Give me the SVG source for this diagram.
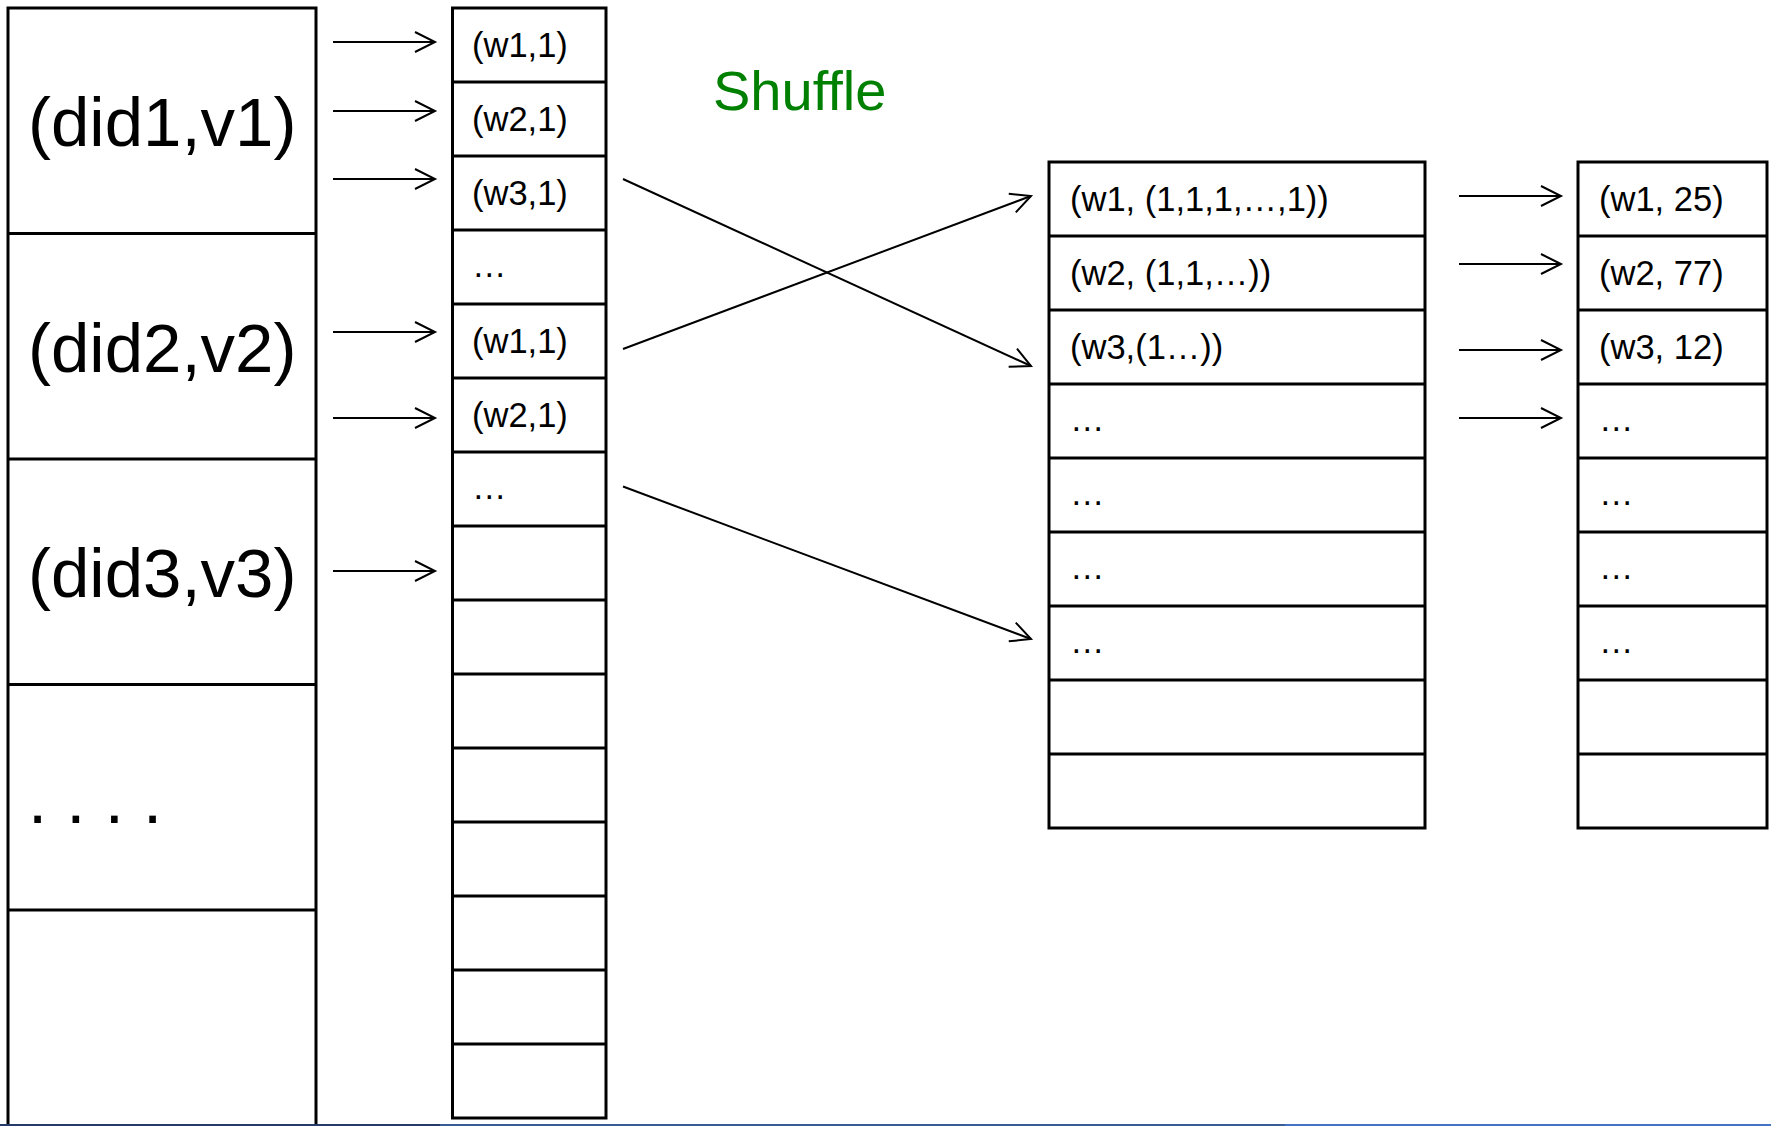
<svg xmlns="http://www.w3.org/2000/svg" width="1771" height="1126" viewBox="0 0 1771 1126">
<style>
.box{fill:#fff;stroke:#000;stroke-width:3}
.div{stroke:#000;stroke-width:3}
.big{font-family:"Liberation Sans",Arial,sans-serif;font-size:69px;fill:#000}
.t{font-family:"Liberation Sans",Arial,sans-serif;font-size:34.5px;fill:#000}
.shuf{font-family:"Liberation Sans",Arial,sans-serif;font-size:56px;fill:#008000}
.arr{stroke:#000;stroke-width:2;fill:none;marker-end:url(#head)}
</style>
<defs>
<marker id="head" markerUnits="userSpaceOnUse" viewBox="-22 -12 24 24" refX="0" refY="0" markerWidth="24" markerHeight="24" orient="auto" overflow="visible">
<path d="M-20,-10 L0,0 L-20,10" fill="none" stroke="#000" stroke-width="2"/>
</marker>
</defs>
<rect width="1771" height="1126" fill="#fff"/>

<g id="input">
<rect class="box" x="8" y="8" width="308" height="1140"/>
<line class="div" x1="8" y1="233.5" x2="316" y2="233.5"/>
<line class="div" x1="8" y1="459" x2="316" y2="459"/>
<line class="div" x1="8" y1="684.5" x2="316" y2="684.5"/>
<line class="div" x1="8" y1="910" x2="316" y2="910"/>
<text class="big" x="28" y="146">(did1,v1)</text>
<text class="big" x="28" y="371.5">(did2,v2)</text>
<text class="big" x="28" y="596.5">(did3,v3)</text>
<text class="big" x="28" y="823">. . . .</text>
</g>

<g id="map-output">
<rect class="box" x="452.5" y="8" width="153.5" height="1110"/>
<line class="div" x1="452.5" y1="82" x2="606" y2="82"/>
<line class="div" x1="452.5" y1="156" x2="606" y2="156"/>
<line class="div" x1="452.5" y1="230" x2="606" y2="230"/>
<line class="div" x1="452.5" y1="304" x2="606" y2="304"/>
<line class="div" x1="452.5" y1="378" x2="606" y2="378"/>
<line class="div" x1="452.5" y1="452" x2="606" y2="452"/>
<line class="div" x1="452.5" y1="526" x2="606" y2="526"/>
<line class="div" x1="452.5" y1="600" x2="606" y2="600"/>
<line class="div" x1="452.5" y1="674" x2="606" y2="674"/>
<line class="div" x1="452.5" y1="748" x2="606" y2="748"/>
<line class="div" x1="452.5" y1="822" x2="606" y2="822"/>
<line class="div" x1="452.5" y1="896" x2="606" y2="896"/>
<line class="div" x1="452.5" y1="970" x2="606" y2="970"/>
<line class="div" x1="452.5" y1="1044" x2="606" y2="1044"/>
<text class="t" x="472" y="57">(w1,1)</text>
<text class="t" x="472" y="131">(w2,1)</text>
<text class="t" x="472" y="205">(w3,1)</text>
<text class="t" x="472" y="277">…</text>
<text class="t" x="472" y="353">(w1,1)</text>
<text class="t" x="472" y="427">(w2,1)</text>
<text class="t" x="472" y="499">…</text>
</g>

<g id="shuffle-label">
<text class="shuf" x="713" y="110">Shuffle</text>
</g>

<g id="reduce-input">
<rect class="box" x="1049" y="162" width="376" height="666"/>
<line class="div" x1="1049" y1="236" x2="1425" y2="236"/>
<line class="div" x1="1049" y1="310" x2="1425" y2="310"/>
<line class="div" x1="1049" y1="384" x2="1425" y2="384"/>
<line class="div" x1="1049" y1="458" x2="1425" y2="458"/>
<line class="div" x1="1049" y1="532" x2="1425" y2="532"/>
<line class="div" x1="1049" y1="606" x2="1425" y2="606"/>
<line class="div" x1="1049" y1="680" x2="1425" y2="680"/>
<line class="div" x1="1049" y1="754" x2="1425" y2="754"/>
<text class="t" x="1070" y="211">(w1, (1,1,1,…,1))</text>
<text class="t" x="1070" y="285">(w2, (1,1,…))</text>
<text class="t" x="1070" y="359">(w3,(1…))</text>
<text class="t" x="1070" y="431">…</text>
<text class="t" x="1070" y="505">…</text>
<text class="t" x="1070" y="579">…</text>
<text class="t" x="1070" y="653">…</text>
</g>

<g id="reduce-output">
<rect class="box" x="1578" y="162" width="189" height="666"/>
<line class="div" x1="1578" y1="236" x2="1767" y2="236"/>
<line class="div" x1="1578" y1="310" x2="1767" y2="310"/>
<line class="div" x1="1578" y1="384" x2="1767" y2="384"/>
<line class="div" x1="1578" y1="458" x2="1767" y2="458"/>
<line class="div" x1="1578" y1="532" x2="1767" y2="532"/>
<line class="div" x1="1578" y1="606" x2="1767" y2="606"/>
<line class="div" x1="1578" y1="680" x2="1767" y2="680"/>
<line class="div" x1="1578" y1="754" x2="1767" y2="754"/>
<text class="t" x="1599" y="211">(w1, 25)</text>
<text class="t" x="1599" y="285">(w2, 77)</text>
<text class="t" x="1599" y="359">(w3, 12)</text>
<text class="t" x="1599" y="431">…</text>
<text class="t" x="1599" y="505">…</text>
<text class="t" x="1599" y="579">…</text>
<text class="t" x="1599" y="653">…</text>
</g>

<g id="connectors">
<line class="arr" x1="333" y1="42" x2="435" y2="42"/>
<line class="arr" x1="333" y1="111" x2="435" y2="111"/>
<line class="arr" x1="333" y1="179" x2="435" y2="179"/>
<line class="arr" x1="333" y1="332" x2="435" y2="332"/>
<line class="arr" x1="333" y1="418" x2="435" y2="418"/>
<line class="arr" x1="333" y1="571" x2="435" y2="571"/>
<line class="arr" x1="623" y1="179" x2="1031" y2="366"/>
<line class="arr" x1="623" y1="349" x2="1031" y2="196"/>
<line class="arr" x1="623" y1="486.5" x2="1031" y2="639"/>
<line class="arr" x1="1459" y1="196" x2="1561" y2="196"/>
<line class="arr" x1="1459" y1="264" x2="1561" y2="264"/>
<line class="arr" x1="1459" y1="350" x2="1561" y2="350"/>
<line class="arr" x1="1459" y1="418" x2="1561" y2="418"/>
</g>

<g id="bottom-bar">
<rect x="0" y="1124" width="440" height="2" fill="#243c6c"/>
<rect x="440" y="1124" width="845" height="2" fill="#3a5c96"/>
<rect x="1285" y="1124" width="486" height="2" fill="#4472c4"/>
</g>
</svg>
